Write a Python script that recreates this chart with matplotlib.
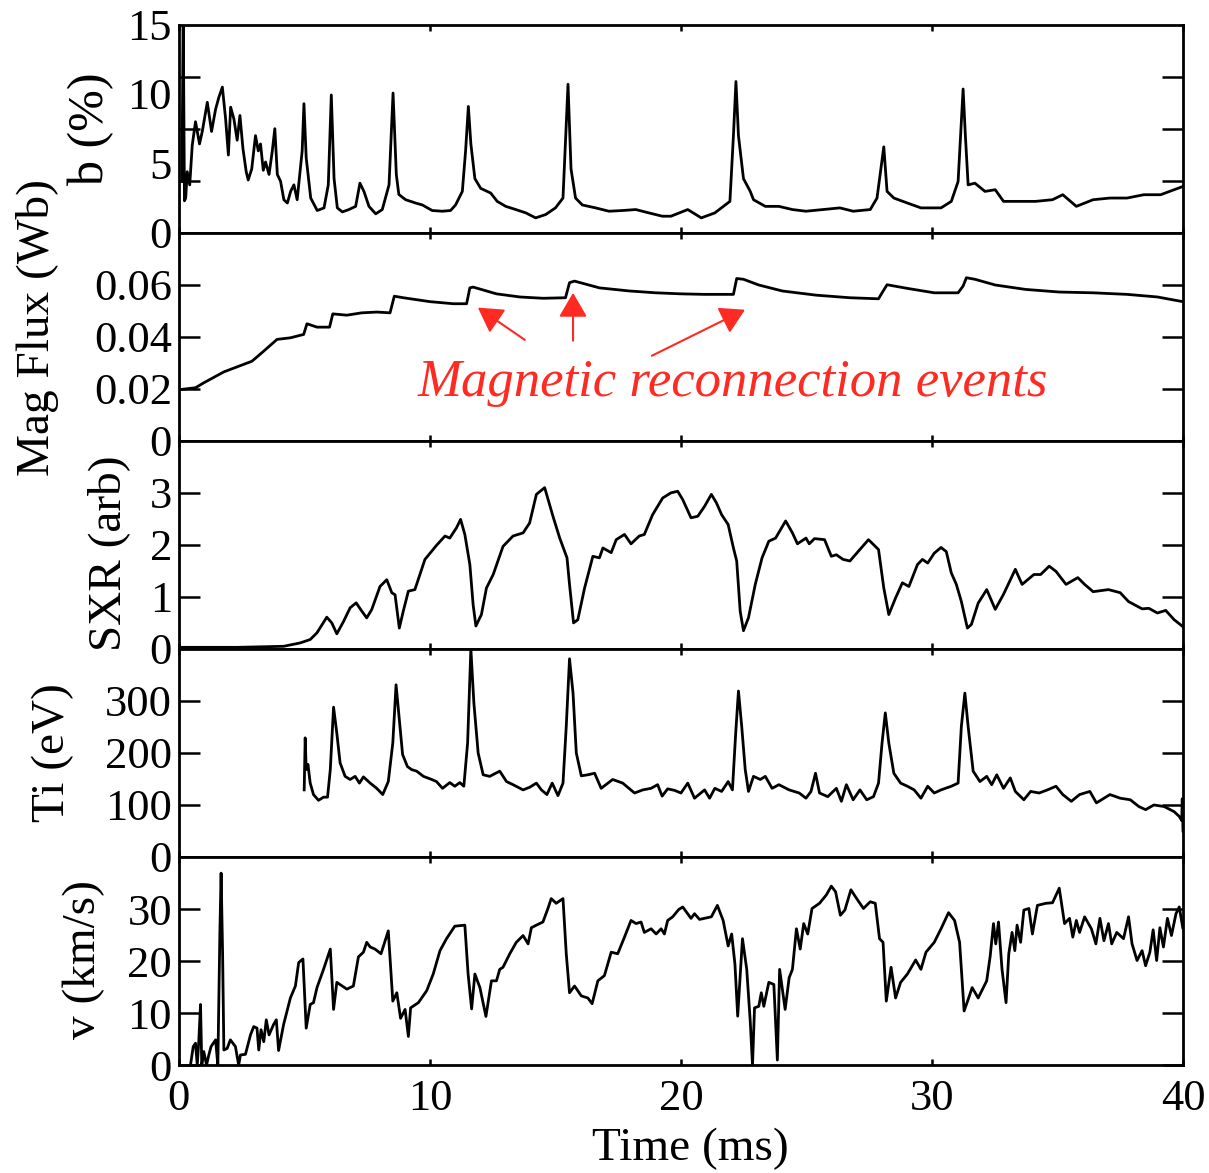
import matplotlib
matplotlib.use("Agg")
import matplotlib.pyplot as plt
from matplotlib.ticker import FixedLocator, NullFormatter

plt.rcParams["font.family"] = ["Liberation Serif", "DejaVu Serif"]
plt.rcParams["font.size"] = 32

# b (%) trace
b_t = [0.12, 0.17, 0.22, 0.27, 0.33, 0.43, 0.53, 0.66, 0.82, 0.93, 1.13, 1.30, 1.46, 1.59, 1.73,
       1.86, 1.97, 2.06, 2.19, 2.32, 2.43, 2.55, 2.68, 2.76, 2.90, 3.05, 3.16, 3.25, 3.36, 3.45,
       3.59, 3.72, 3.82, 3.92, 4.05, 4.18, 4.32, 4.45, 4.58, 4.71, 4.82, 4.91, 4.98, 5.07, 5.25,
       5.51, 5.78, 5.95, 6.07, 6.18, 6.31, 6.51, 6.77, 7.04, 7.21, 7.37, 7.57, 7.84, 8.10, 8.37,
       8.53, 8.66, 8.76, 9.03, 9.43, 9.70, 10.09, 10.49, 10.82, 11.02, 11.29, 11.42, 11.53, 11.63,
       11.79, 12.02, 12.42, 12.68, 13.02, 13.42, 13.82, 14.21, 14.61, 15.00, 15.30, 15.50, 15.62,
       15.80, 16.07, 16.60, 17.13, 17.66, 18.20, 18.72, 19.26, 19.60, 20.27, 20.81, 21.35, 21.95,
       22.09, 22.19, 22.29, 22.49, 22.76, 22.89, 23.36, 23.90, 24.44, 24.98, 25.65, 26.33, 26.86,
       27.54, 27.81, 28.08, 28.21, 28.48, 29.02, 29.56, 30.36, 30.77, 31.04, 31.14, 31.24, 31.33,
       31.44, 31.71, 32.11, 32.52, 32.85, 33.46, 34.13, 34.80, 35.21, 35.75, 36.42, 37.09, 37.77,
       38.44, 39.11, 39.65, 39.99]
b_val = [3.7, 16.0, 2.3, 2.5, 4.4, 3.45, 6.3, 8.0, 6.4, 7.3, 9.4, 7.3, 8.9, 9.76, 10.5,
         8.2, 5.6, 9.05, 8.2, 6.67, 8.45, 6.07, 4.4, 3.8, 4.6, 7.0, 5.9, 6.4, 4.5, 5.1,
         4.2, 5.9, 7.5, 4.2, 3.7, 2.38, 2.14, 2.98, 3.45, 2.38, 4.3, 5.9, 9.3, 5.4, 2.5,
         1.6, 1.79, 3.45, 9.93, 3.9, 1.79, 1.5, 1.67, 1.9, 3.57, 2.98, 1.9, 1.36, 1.67, 3.45,
         10.07, 4.2, 2.76, 2.38, 2.14, 2.0, 1.6, 1.55, 1.6, 2.0, 2.98, 5.9, 9.1, 6.4,
         3.9, 3.2, 2.86, 2.26, 1.9, 1.67, 1.43, 1.07, 1.31, 1.79, 2.5, 10.7, 4.6,
         2.5, 2.0, 1.79, 1.55, 1.6, 1.67, 1.43, 1.19, 1.19, 1.67, 1.07, 1.43, 2.26,
         7.0, 10.9, 7.0, 3.9, 2.98, 2.38, 1.9, 1.9, 1.67, 1.55, 1.67, 1.79, 1.55,
         1.67, 2.5, 6.19, 2.98, 2.5, 2.14, 1.79, 1.79, 2.26, 3.69, 7.0, 10.36, 7.0,
         3.45, 3.57, 2.98, 3.1, 2.26, 2.26, 2.26, 2.38, 2.74, 1.9, 2.38, 2.5, 2.5,
         2.74, 2.74, 3.1, 3.33]

# Mag Flux (Wb) trace
flux_t = [0.05, 0.66, 0.99, 1.79, 2.91, 3.38, 3.91, 4.44, 4.97, 5.10, 5.50, 6.00, 6.13, 6.69,
          7.28, 7.88, 8.41, 8.58, 8.94, 10.0, 10.93, 11.46, 11.59, 11.72, 12.65, 13.58, 14.50,
          15.40, 15.56, 15.76, 16.75, 17.95, 19.0, 20.0, 20.94, 22.09, 22.22, 22.49, 23.1, 24.04,
          25.38, 26.73, 27.87, 28.01, 28.21, 29.02, 30.09, 31.04, 31.24, 31.37, 31.71, 32.52,
          33.73, 35.07, 36.42, 37.77, 38.98, 39.99]
flux_val = [0.0197, 0.0204, 0.0223, 0.0265, 0.0306, 0.0345, 0.039, 0.0396, 0.0409, 0.045, 0.0437,
            0.0437, 0.0488, 0.0483, 0.0492, 0.0495, 0.0492, 0.0556, 0.055, 0.0535, 0.0527, 0.0527,
            0.0588, 0.0591, 0.0565, 0.0553, 0.0548, 0.055, 0.0608, 0.0614, 0.0588, 0.0576, 0.0569,
            0.0565, 0.0563, 0.0563, 0.0624, 0.0621, 0.0599, 0.0576, 0.056, 0.055, 0.0546, 0.0569,
            0.060, 0.0586, 0.0569, 0.0569, 0.0595, 0.0627, 0.0621, 0.0599, 0.0582, 0.0572, 0.0569,
            0.0563, 0.0553, 0.0535]

# SXR (arb) trace
sxr_t = [0.07, 2.32, 4.17, 4.83, 5.23, 5.50, 5.89, 6.09, 6.29, 6.56, 6.82, 7.06, 7.28, 7.48,
         7.68, 8.01, 8.28, 8.48, 8.61, 8.78, 8.94, 9.14, 9.40, 9.80, 10.26, 10.60, 10.79, 11.06,
         11.22, 11.39, 11.59, 11.72, 11.83, 12.05, 12.25, 12.52, 12.91, 13.31, 13.71, 13.97,
         14.24, 14.57, 14.90, 15.17, 15.46, 15.56, 15.72, 15.89, 16.16, 16.49, 16.75, 16.89,
         17.22, 17.42, 17.75, 18.01, 18.34, 18.54, 18.87, 19.27, 19.60, 19.87, 20.07, 20.40,
         20.67, 20.94, 21.21, 21.41, 21.62, 21.88, 22.09, 22.22, 22.36, 22.49, 22.69, 22.96,
         23.23, 23.50, 23.77, 24.17, 24.44, 24.64, 24.98, 25.11, 25.32, 25.72, 25.99, 26.19,
         26.46, 26.73, 27.13, 27.47, 27.87, 28.08, 28.28, 28.55, 28.82, 29.08, 29.42, 29.62,
         29.83, 30.09, 30.36, 30.57, 30.77, 30.97, 31.17, 31.41, 31.57, 31.84, 32.18, 32.52,
         32.85, 33.32, 33.59, 34.06, 34.33, 34.67, 34.94, 35.34, 35.81, 36.08, 36.42, 37.03,
         37.50, 37.83, 38.37, 38.64, 38.98, 39.31, 39.65, 39.99]
sxr_val = [0.03, 0.03, 0.05, 0.115, 0.18, 0.31, 0.61, 0.5, 0.29, 0.53, 0.79, 0.885, 0.73, 0.596,
           0.756, 1.2, 1.33, 1.08, 1.04, 0.4, 0.73, 1.11, 1.14, 1.72, 1.99, 2.17, 2.13, 2.33,
           2.49, 2.2, 1.62, 0.85, 0.44, 0.66, 1.17, 1.43, 1.97, 2.17, 2.23, 2.42,
           2.97, 3.1, 2.55, 2.13, 1.75, 1.24, 0.5, 0.56, 1.17, 1.78, 1.75, 1.94,
           1.85, 2.1, 2.2, 2.02, 2.17, 2.2, 2.58, 2.9, 3.0, 3.03, 2.87, 2.52,
           2.55, 2.74, 2.97, 2.81, 2.58, 2.39, 1.94, 1.69, 0.72, 0.35, 0.6, 1.24,
           1.75, 2.07, 2.13, 2.46, 2.23, 2.02, 2.13, 2.02, 2.12, 2.1, 1.78, 1.81,
           1.72, 1.69, 1.91, 2.1, 1.91, 1.17, 0.66, 0.98, 1.27, 1.2, 1.62, 1.72,
           1.65, 1.84, 1.95, 1.87, 1.46, 1.24, 0.91, 0.4, 0.47, 0.88, 1.14, 0.76,
           1.05, 1.53, 1.24, 1.43, 1.43, 1.59, 1.49, 1.24, 1.37, 1.24, 1.1, 1.14,
           1.08, 0.91, 0.77, 0.78, 0.69, 0.74, 0.56, 0.43]

# Ti (eV) trace
ti_t = [4.99, 5.03, 5.07, 5.14, 5.23, 5.36, 5.56, 5.76, 5.92, 6.03, 6.16, 6.29, 6.42, 6.62,
        6.82, 7.02, 7.19, 7.35, 7.62, 7.88, 8.12, 8.34, 8.52, 8.65, 8.78, 8.91, 9.10, 9.27,
        9.47, 9.74, 10.07, 10.26, 10.50, 10.79, 10.99, 11.19, 11.35, 11.50, 11.63, 11.75,
        11.92, 12.12, 12.38, 12.78, 13.05, 13.31, 13.71, 13.97, 14.24, 14.44, 14.66, 14.87,
        15.10, 15.30, 15.43, 15.56, 15.70, 15.83, 16.03, 16.29, 16.56, 16.82, 17.28, 17.68,
        18.15, 18.48, 18.81, 19.07, 19.25, 19.47, 19.75, 20.00, 20.27, 20.54, 20.94, 21.14,
        21.35, 21.62, 21.88, 22.05, 22.18, 22.29, 22.42, 22.56, 22.69, 22.89, 23.16, 23.36,
        23.63, 23.90, 24.31, 24.71, 24.98, 25.18, 25.36, 25.52, 25.85, 26.19, 26.39, 26.59,
        26.86, 27.13, 27.40, 27.67, 27.87, 28.01, 28.14, 28.28, 28.48, 28.75, 29.02, 29.29,
        29.56, 29.83, 30.09, 30.36, 30.77, 31.04, 31.17, 31.31, 31.44, 31.64, 31.91, 32.18,
        32.38, 32.58, 32.85, 33.12, 33.32, 33.66, 33.93, 34.27, 34.60, 34.94, 35.21, 35.55,
        35.88, 36.29, 36.55, 37.09, 37.50, 37.90, 38.24, 38.51, 38.84, 39.25, 39.65, 39.85,
        39.95, 39.97, 40.0]
ti_val = [129, 229, 168, 178, 142, 120, 109, 115, 115, 168, 288, 238, 181, 155,
          149, 155, 142, 154, 142, 132, 120, 145, 219, 331, 264, 197, 174, 168,
          165, 155, 149, 145, 132, 143, 136, 143, 136, 219, 400, 296,
          200, 158, 155, 165, 145, 139, 129, 134, 142, 129, 120, 142,
          118, 142, 251, 381, 315, 200, 156, 158, 161, 132, 149, 142,
          123, 129, 132, 139, 117, 131, 128, 123, 142, 113, 129, 113,
          132, 126, 145, 129, 238, 319, 251, 168, 126, 155, 149, 155,
          132, 139, 129, 123, 113, 126, 161, 123, 116, 132, 107, 139,
          110, 129, 110, 116, 142, 219, 277, 219, 161, 142, 136, 129,
          113, 136, 123, 129, 136, 142, 251, 315, 251, 165, 145, 155,
          139, 158, 132, 152, 126, 110, 126, 123, 129, 136, 120, 107,
          120, 126, 104, 120, 113, 110, 97, 91, 100, 97, 87, 78,
          70, 112, 50]

# v (km/s) trace
v_t = [0.46, 0.57, 0.66, 0.73, 0.79, 0.86, 0.91, 0.99, 1.10, 1.19, 1.28, 1.46, 1.55, 1.63,
       1.68, 1.74, 1.79, 1.92, 2.05, 2.25, 2.38, 2.45, 2.65, 2.85, 2.98, 3.11, 3.18, 3.27,
       3.38, 3.48, 3.59, 3.77, 3.88, 3.97, 4.17, 4.44, 4.64, 4.77, 4.94, 5.07, 5.23, 5.36,
       5.50, 5.76, 6.03, 6.16, 6.29, 6.69, 6.95, 7.15, 7.35, 7.48, 7.62, 7.81, 8.05, 8.34,
       8.52, 8.68, 8.83, 9.01, 9.14, 9.23, 9.54, 9.87, 10.13, 10.40, 10.66, 10.99, 11.39,
       11.52, 11.66, 11.79, 11.99, 12.23, 12.45, 12.65, 12.78, 12.91, 13.18, 13.44, 13.71,
       13.91, 14.04, 14.24, 14.50, 14.70, 14.83, 15.03, 15.30, 15.43, 15.56, 15.76, 16.03,
       16.29, 16.46, 16.69, 16.95, 17.22, 17.48, 17.75, 18.01, 18.21, 18.41, 18.54, 18.81,
       19.01, 19.21, 19.34, 19.47, 19.67, 19.91, 20.07, 20.40, 20.54, 20.74, 21.21, 21.45,
       21.68, 21.88, 22.02, 22.15, 22.26, 22.45, 22.62, 22.76, 22.85, 22.93, 23.10, 23.20,
       23.30, 23.50, 23.70, 23.84, 23.93, 24.15, 24.31, 24.44, 24.60, 24.75, 24.89, 25.05,
       25.22, 25.52, 25.79, 25.99, 26.16, 26.35, 26.53, 26.77, 27.00, 27.27, 27.54, 27.74,
       27.91, 28.05, 28.18, 28.37, 28.55, 28.75, 29.02, 29.35, 29.56, 29.76, 30.09, 30.36,
       30.66, 30.90, 31.10, 31.28, 31.44, 31.60, 31.84, 32.18, 32.32, 32.45, 32.54, 32.65,
       32.79, 32.95, 33.06, 33.19, 33.30, 33.39, 33.53, 33.66, 33.86, 34.00, 34.20, 34.54,
       34.80, 35.07, 35.28, 35.48, 35.61, 35.75, 35.88, 36.08, 36.35, 36.53, 36.69, 36.85,
       37.03, 37.16, 37.36, 37.63, 37.83, 37.97, 38.17, 38.37, 38.51, 38.68, 38.81, 38.95,
       39.08, 39.22, 39.38, 39.54, 39.72, 39.85, 39.99]
v_val = [0.0, 3.56, 4.2, 0.0, 4.5, 11.65, 0.0, 2.6, 0.0, 1.94, 3.56, 4.85, 0.0, 25.2,
         36.9, 21.4, 2.9, 3.2, 4.85, 3.56, 0.0, 1.94, 2.07, 5.8, 7.4, 7.1, 2.9, 6.8,
         4.5, 8.7, 5.8, 7.8, 8.7, 2.8, 7.8, 12.9, 15.2, 19.7, 20.4, 7.1, 11.65, 12.0,
         14.9, 18.4, 22.3, 10.7, 15.9, 14.6, 15.2, 20.8, 21.7, 23.6, 22.7, 22.3, 21.4, 25.8,
         12.3, 13.9, 9.0, 10.7, 5.5, 11.0, 12.0, 14.3, 17.5, 22.0, 24.3, 26.7, 26.9,
         17.5, 10.8, 17.5, 14.9, 9.35, 16.2, 16.2, 18.4, 18.8, 21.4, 23.6, 24.9,
         23.3, 26.4, 26.9, 27.5, 30.1, 32.0, 31.1, 32.0, 21.4, 13.9, 15.2, 13.3,
         12.9, 11.8, 16.2, 17.2, 21.7, 21.4, 24.6, 27.8, 27.2, 27.5, 25.5, 26.2,
         25.2, 26.2, 25.2, 27.8, 28.5, 29.9, 30.4, 28.2, 29.1, 28.0, 28.5, 30.7,
         27.8, 22.9, 25.2, 19.4, 9.4, 24.3, 18.4, 8.4, 0.0, 11.0, 11.3, 13.9,
         11.3, 15.9, 15.5, 0.97, 18.4, 10.7, 16.8, 18.4, 26.2, 22.3, 27.2, 25.2,
         30.1, 31.1, 32.7, 34.4, 33.3, 28.8, 29.8, 33.7, 32.0, 30.1, 31.4, 31.1,
         24.3, 23.6, 12.3, 18.8, 12.9, 15.9, 17.5, 20.2, 18.4, 21.7, 23.6, 26.2,
         29.3, 27.8, 23.6, 10.4, 12.6, 14.9, 12.9, 16.2, 21.0, 27.2, 23.3, 27.5,
         18.4, 12.0, 21.4, 25.5, 22.0, 26.9, 23.6, 29.8, 30.1, 25.2, 30.7, 31.1,
         31.2, 34.0, 27.2, 28.2, 24.6, 27.8, 25.5, 28.5, 26.2, 23.3, 28.2, 23.9,
         27.2, 23.3, 25.5, 24.3, 28.5, 23.3, 20.1, 22.0, 19.1, 21.7, 26.0, 20.1,
         26.4, 22.7, 28.2, 24.9, 29.1, 30.4, 26.4]

panel_labels = ["b (%)", "Mag Flux (Wb)", "SXR (arb)", "Ti (eV)", "v (km/s)"]
panel_ylims = [(0, 15), (0, 0.08), (0, 4), (0, 400), (0, 40)]
panel_ticks = [[0, 5, 10, 15], [0, 0.02, 0.04, 0.06], [0, 1, 2, 3], [0, 100, 200, 300], [0, 10, 20, 30]]
panel_ticklabels = [["0", "5", "10", "15"], ["0", "0.02", "0.04", "0.06"], ["0", "1", "2", "3"],
                    ["0", "100", "200", "300"], ["0", "10", "20", "30"]]
x_ticks = [0, 10, 20, 30, 40]

RED = "#ff2a22"


def style_axis(ax):
    for sp in ax.spines.values():
        sp.set_linewidth(2.0)
    ax.tick_params(axis="y", which="both", direction="in", left=True, right=True,
                   length=15, width=1.8, pad=5)
    ax.tick_params(axis="x", which="both", direction="in", top=True, bottom=True,
                   length=4, width=1.8, pad=10)


def main():
    fig, axes = plt.subplots(5, 1, sharex=True, figsize=(12.09, 11.73), dpi=100)
    fig.subplots_adjust(left=0.148, right=0.9785, top=0.979, bottom=0.092, hspace=0)

    series = [(b_t, b_val), (flux_t, flux_val), (sxr_t, sxr_val), (ti_t, ti_val), (v_t, v_val)]
    label_x = [-0.065, -0.119, -0.049, -0.104, -0.074]
    label_y = [0.5, 0.543, 0.46, 0.5, 0.505]
    label_size = [36, 34, 34, 34, 34]

    for i, ax in enumerate(axes):
        t, y = series[i]
        ax.plot(t, y, color="black", lw=2.0)
        ax.set_ylim(*panel_ylims[i])
        ax.set_xlim(0, 40)
        style_axis(ax)

        if i == 0:
            # tick marks sit at quarter heights, labels at 0/5/10/15
            ax.yaxis.set_major_locator(FixedLocator(panel_ticks[i]))
            ax.set_yticklabels(panel_ticklabels[i])
            ax.tick_params(axis="y", which="major", length=0)
            ax.yaxis.set_minor_locator(FixedLocator([3.75, 7.5, 11.25]))
            ax.yaxis.set_minor_formatter(NullFormatter())
            ax.tick_params(axis="y", which="minor", length=15, width=1.8)
        else:
            ax.set_yticks(panel_ticks[i])
            ax.set_yticklabels(panel_ticklabels[i])

        ax.set_ylabel(panel_labels[i], fontsize=label_size[i])
        ax.yaxis.set_label_coords(label_x[i], label_y[i])

    axes[-1].set_xticks(x_ticks)
    axes[-1].set_xticklabels([str(v) for v in x_ticks])
    axes[-1].set_xlabel("Time (ms)", fontsize=34)
    axes[-1].xaxis.set_label_coords(0.509, -0.3)

    # reconnection annotation on the flux panel
    axf = axes[1]
    arrows = [((11.91, 0.0512), (13.78, 0.0388)),
              ((15.7, 0.0569), (15.7, 0.0385)),
              ((22.55, 0.0504), (18.84, 0.0327))]
    for tip, tail in arrows:
        axf.annotate("", xy=tip, xytext=tail,
                     arrowprops=dict(arrowstyle="-|>,head_length=0.6,head_width=0.35",
                                     color=RED, lw=1.5, mutation_scale=25,
                                     shrinkA=0, shrinkB=0))
    axf.text(9.52, 0.0173, "Magnetic reconnection events", color=RED, fontsize=38,
             style="italic", ha="left", va="baseline")

    fig.savefig("out.png", dpi=100)
    plt.close(fig)


if __name__ == "__main__":
    main()
